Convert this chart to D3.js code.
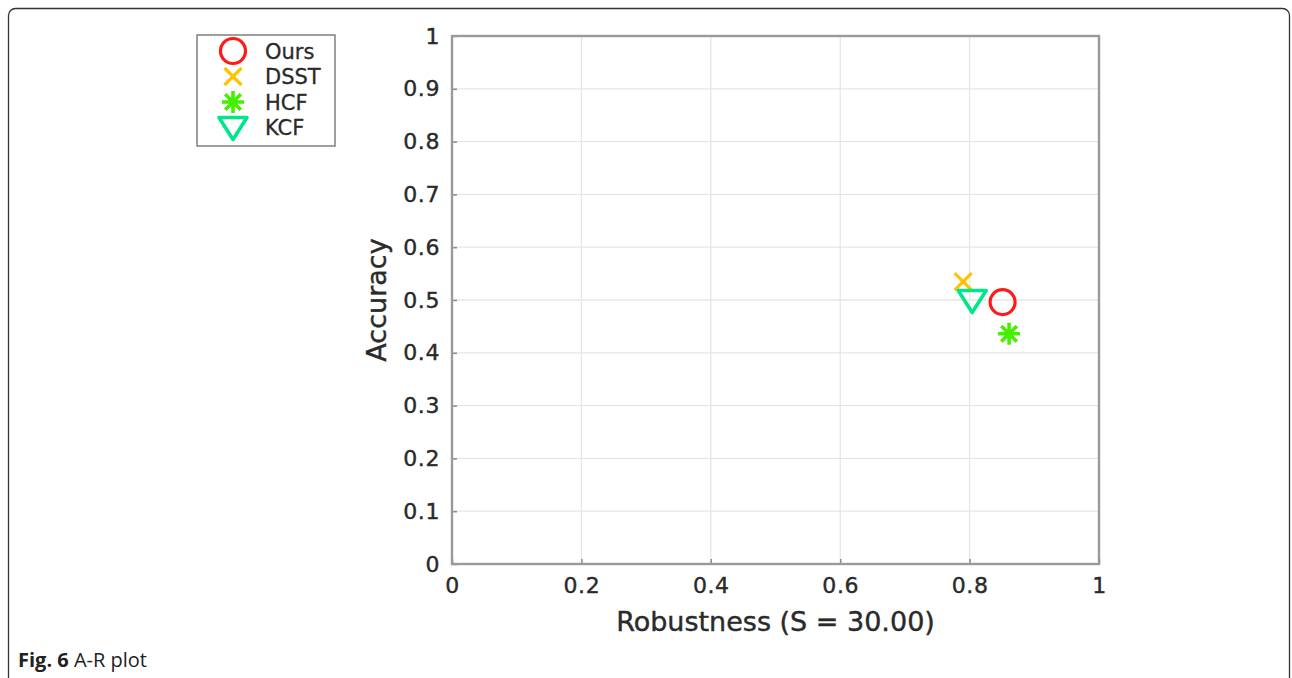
<!DOCTYPE html>
<html>
<head>
<meta charset="utf-8">
<script src="https://cdn.jsdelivr.net/npm/d3@7"></script>
<style>
  body { margin: 0; background: #fff; }
  svg text { font-family: "DejaVu Sans", sans-serif; }
</style>
</head>
<body>
<svg id="chart" width="1292" height="678"></svg>
<script>
// tracker results (robustness, accuracy)
const trackers = ['Ours', 'DSST', 'HCF', 'KCF'];
const robustness = [0.851, 0.790, 0.861, 0.804];
const accuracy = [0.496, 0.535, 0.436, 0.499];
const markers = ['circle', 'cross', 'star', 'triangle'];
const colors = ['#ff1a1a', '#ffc400', '#44f000', '#00e68a'];

const xTicks = [0, 0.2, 0.4, 0.6, 0.8, 1];
const yTicks = [0, 0.1, 0.2, 0.3, 0.4, 0.5, 0.6, 0.7, 0.8, 0.9, 1];

const svg = d3.select('#chart');

// outer figure frame (clipped by page)
svg.append('rect')
  .attr('x', 8.5).attr('y', 8.5)
  .attr('width', 1281).attr('height', 720)
  .attr('rx', 7)
  .attr('fill', 'none')
  .attr('stroke', '#333')
  .attr('stroke-width', 1.3);

const plot = {left: 452, right: 1099, top: 36, bottom: 564};

const x = d3.scaleLinear().domain([0, 1]).range([plot.left, plot.right]);
const y = d3.scaleLinear().domain([0, 1]).range([plot.bottom, plot.top]);

const g = svg.append('g');

// gridlines
g.append('g')
  .selectAll('line')
  .data(xTicks.slice(1, -1))
  .join('line')
  .attr('x1', d => x(d)).attr('x2', d => x(d))
  .attr('y1', plot.top).attr('y2', plot.bottom)
  .attr('stroke', '#e6e6e6').attr('stroke-width', 1.3);

g.append('g')
  .selectAll('line')
  .data(yTicks.slice(1, -1))
  .join('line')
  .attr('y1', d => y(d)).attr('y2', d => y(d))
  .attr('x1', plot.left).attr('x2', plot.right)
  .attr('stroke', '#e6e6e6').attr('stroke-width', 1.3);

// axes with inward ticks
const fmt = d => d === 0 || d === 1 ? d3.format('d')(d) : d;
const xAxis = d3.axisBottom(x).tickValues(xTicks).tickSize(-5).tickPadding(10).tickFormat(fmt);
const yAxis = d3.axisLeft(y).tickValues(yTicks).tickSize(-5).tickPadding(12).tickFormat(fmt);

const xg = g.append('g')
  .attr('transform', `translate(0,${plot.bottom})`)
  .call(xAxis);
const yg = g.append('g')
  .attr('transform', `translate(${plot.left},0)`)
  .call(yAxis);

[xg, yg].forEach(a => {
  a.select('.domain').remove();
  a.selectAll('.tick line').attr('stroke', '#8a8a8a').attr('stroke-width', 1.5);
  a.selectAll('.tick text')
    .attr('fill', '#2a2a2a')
    .style('font-size', '22px')
    .style('letter-spacing', '0.6px')
    .attr('stroke', '#2a2a2a').attr('stroke-width', 0.4);
});
xg.selectAll('.tick text').attr('dy', '0.85em');

// box
g.append('rect')
  .attr('x', plot.left).attr('y', plot.top)
  .attr('width', plot.right - plot.left).attr('height', plot.bottom - plot.top)
  .attr('fill', 'none')
  .attr('stroke', '#9a9a9a')
  .attr('stroke-width', 2.4);

// axis labels
svg.append('text')
  .attr('x', (plot.left + plot.right) / 2)
  .attr('y', 631)
  .attr('text-anchor', 'middle')
  .attr('fill', '#2a2a2a')
  .attr('stroke', '#2a2a2a').attr('stroke-width', 0.4)
  .style('font-size', '27px')
  .text('Robustness (S = 30.00)');

svg.append('text')
  .attr('transform', `translate(386,${(plot.top + plot.bottom) / 2}) rotate(-90)`)
  .attr('text-anchor', 'middle')
  .attr('fill', '#2a2a2a')
  .attr('stroke', '#2a2a2a').attr('stroke-width', 0.4)
  .style('font-size', '27px')
  .text('Accuracy');

// marker drawing
function drawMarker(sel, type, color) {
  if (type === 'circle') {
    sel.append('circle').attr('r', 12.5)
      .attr('fill', 'none').attr('stroke', color).attr('stroke-width', 3.2);
  } else if (type === 'cross') {
    sel.append('path').attr('d', 'M-8.5,-8.5L8.5,8.5M-8.5,8.5L8.5,-8.5')
      .attr('fill', 'none').attr('stroke', color).attr('stroke-width', 3.2);
  } else if (type === 'star') {
    const r = 11;
    const p = [];
    for (let k = 0; k < 4; k++) {
      const a = k * Math.PI / 4;
      p.push(`M${-r * Math.cos(a)},${-r * Math.sin(a)}L${r * Math.cos(a)},${r * Math.sin(a)}`);
    }
    sel.append('path').attr('d', p.join(''))
      .attr('fill', 'none').attr('stroke', color).attr('stroke-width', 3.6);
  } else if (type === 'triangle') {
    sel.append('path').attr('d', 'M-14,-10L14,-10L0,12Z')
      .attr('fill', 'none').attr('stroke', color).attr('stroke-width', 3.6)
      .attr('stroke-linejoin', 'round');
  }
}

// data points
trackers.forEach((t, i) => {
  const m = svg.append('g')
    .attr('transform', `translate(${x(robustness[i])},${y(accuracy[i])})`);
  drawMarker(m, markers[i], colors[i]);
});

// legend
const legend = svg.append('g').attr('transform', 'translate(197,35)');
legend.append('rect')
  .attr('width', 138).attr('height', 111)
  .attr('fill', '#fff')
  .attr('stroke', '#777').attr('stroke-width', 1.4);

trackers.forEach((t, i) => {
  const row = legend.append('g').attr('transform', `translate(36,${16 + i * 25.5})`);
  drawMarker(row, markers[i], colors[i]);
  row.append('text')
    .attr('x', 32).attr('y', 0).attr('dy', '0.36em')
    .attr('fill', '#2a2a2a')
    .attr('stroke', '#2a2a2a').attr('stroke-width', 0.3)
    .style('font-size', '21px')
    .text(t);
});

// caption
const cap = svg.append('text')
  .attr('x', 18).attr('y', 667)
  .style('font-family', '"Open Sans", sans-serif')
  .style('font-size', '20px')
  .attr('fill', '#222');
cap.append('tspan').attr('font-weight', 'bold').text('Fig. 6');
cap.append('tspan').text(' A-R plot');
</script>
</body>
</html>
